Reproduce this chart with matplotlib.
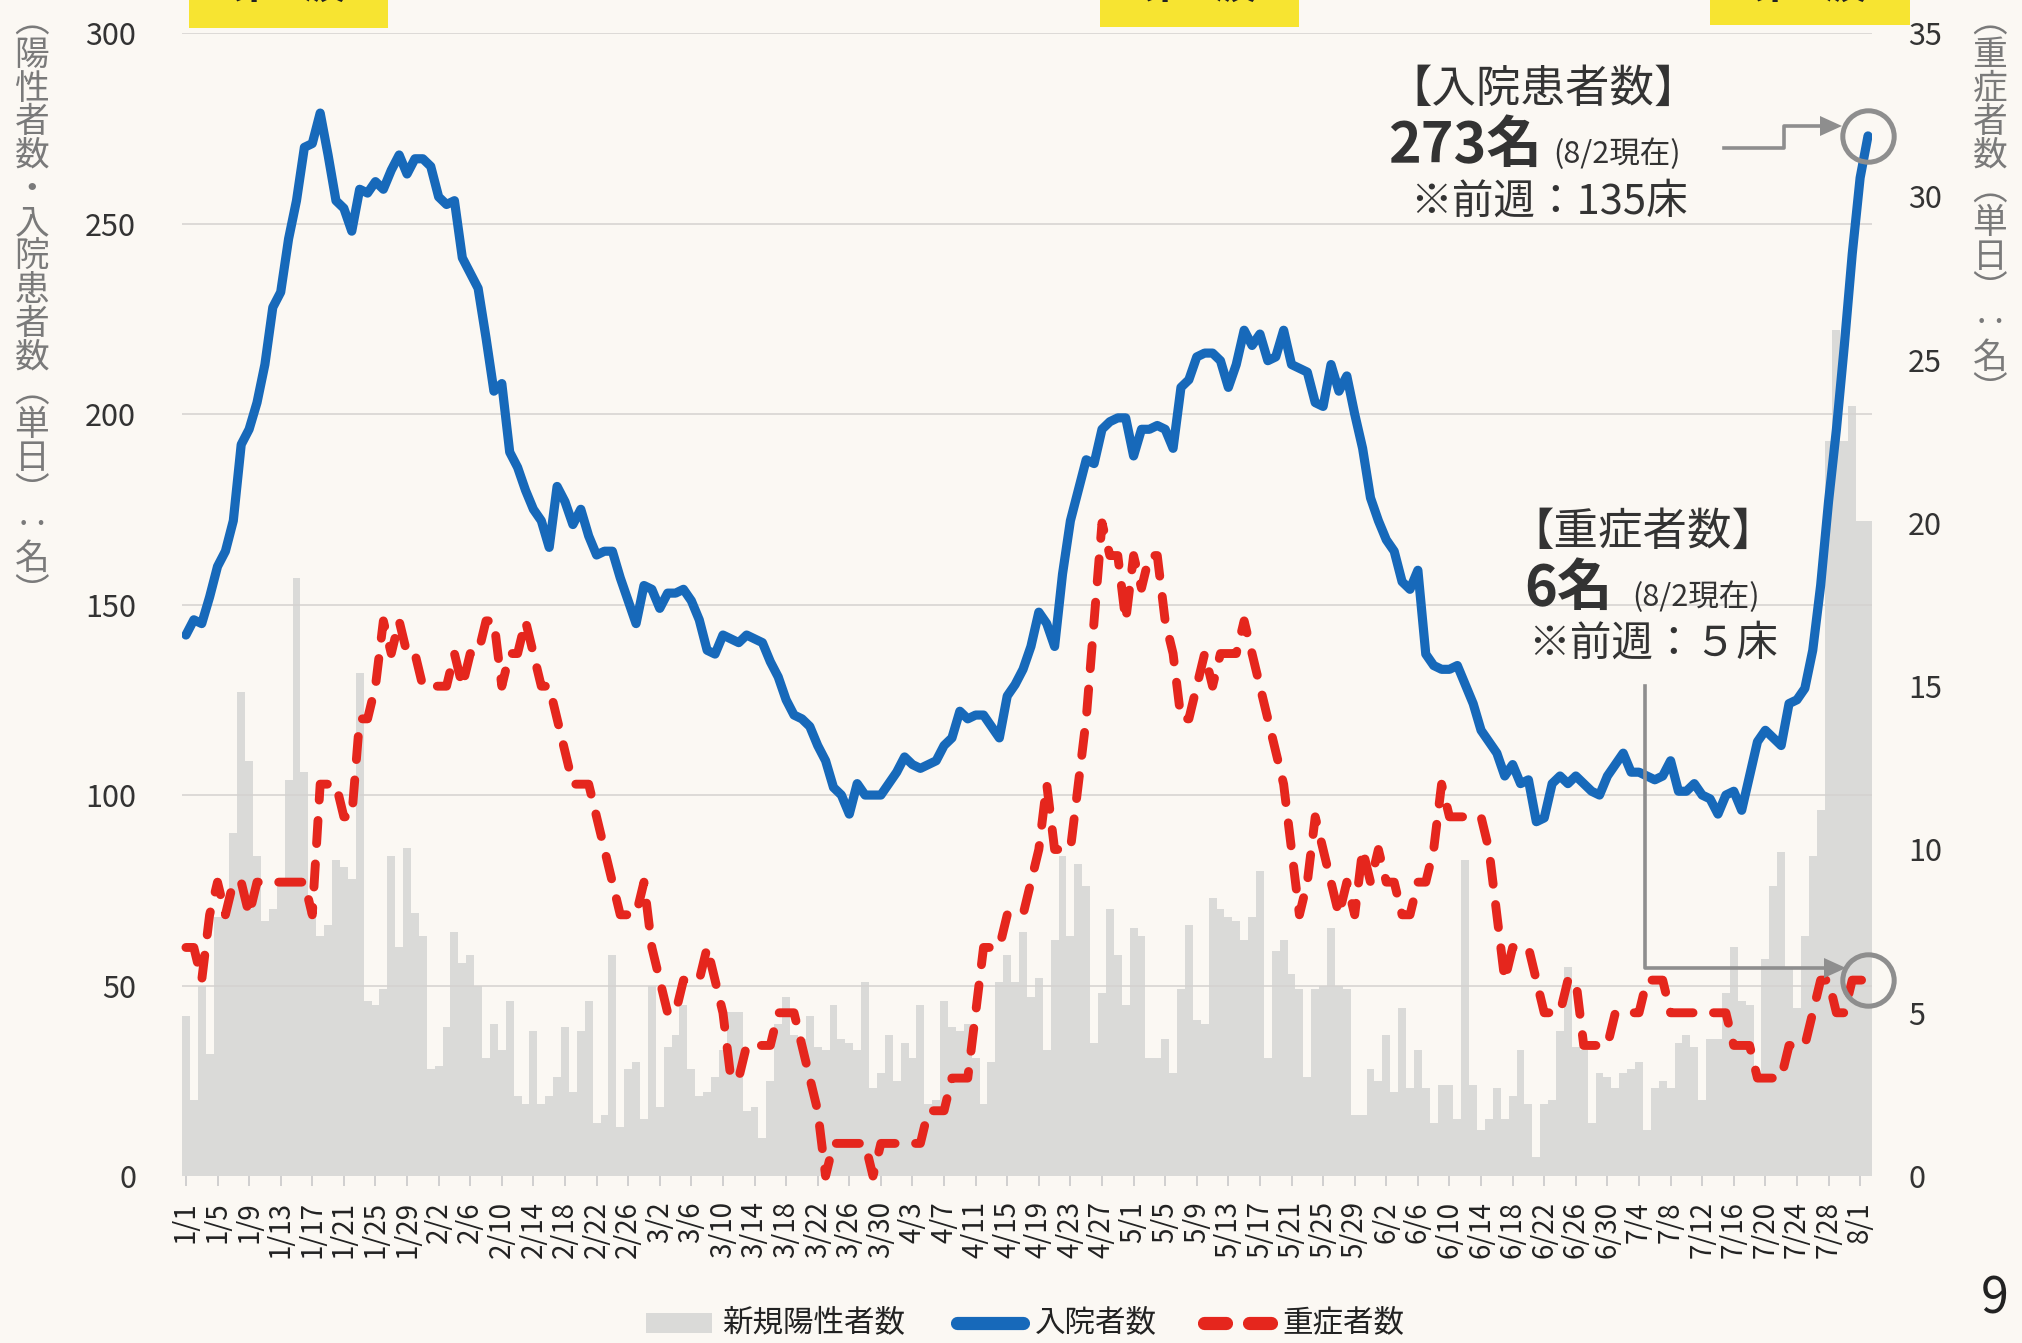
import datetime as dt
import numpy as np
import matplotlib
matplotlib.use("Agg")
import matplotlib.pyplot as plt
from matplotlib.lines import Line2D
from matplotlib.patches import Rectangle

plt.rcParams['font.family'] = ['Noto Sans CJK JP', 'DejaVu Sans']

# ---- data: 2022/1/1 - 8/2, daily ----
start_date = dt.date(2022, 1, 1)

new_positive = [
    42, 20, 50, 32, 68, 68, 90, 127, 109, 84,
    67, 70, 78, 104, 157, 106, 68, 63, 66, 83,
    81, 78, 132, 46, 45, 49, 84, 60, 86, 69,
    63, 28, 29, 39, 64, 56, 58, 50, 31, 40,
    33, 46, 21, 19, 38, 19, 21, 26, 39, 22,
    38, 46, 14, 16, 58, 13, 28, 30, 15, 50,
    18, 34, 37, 45, 28, 21, 22, 26, 33, 43,
    43, 17, 18, 10, 25, 40, 47, 37, 36, 42,
    34, 33, 45, 36, 35, 33, 51, 23, 27, 37,
    25, 35, 31, 45, 19, 20, 46, 39, 38, 40,
    31, 19, 30, 51, 58, 51, 64, 47, 52, 33,
    62, 84, 63, 82, 76, 35, 48, 70, 58, 45,
    65, 63, 31, 31, 36, 27, 49, 66, 41, 40,
    73, 70, 68, 67, 62, 68, 80, 31, 59, 62,
    53, 49, 26, 49, 50, 65, 50, 49, 16, 16,
    28, 25, 37, 22, 44, 23, 33, 23, 14, 24,
    24, 15, 83, 24, 12, 15, 23, 15, 21, 33,
    19, 5, 19, 20, 38, 55, 34, 33, 14, 27,
    26, 23, 27, 28, 30, 12, 23, 25, 23, 35,
    37, 34, 20, 36, 36, 48, 60, 46, 45, 27,
    57, 76, 85, 55, 44, 63, 84, 96, 193, 222,
    193, 202, 172, 172,
]

hospitalized = [
    142, 146, 145, 152, 160, 164, 172, 192, 196, 203,
    213, 228, 232, 246, 256, 270, 271, 279, 268, 256,
    254, 248, 259, 258, 261, 259, 264, 268, 263, 267,
    267, 265, 257, 255, 256, 241, 237, 233, 220, 206,
    208, 190, 186, 180, 175, 172, 165, 181, 177, 171,
    175, 168, 163, 164, 164, 157, 151, 145, 155, 154,
    149, 153, 153, 154, 151, 146, 138, 137, 142, 141,
    140, 142, 141, 140, 135, 131, 125, 121, 120, 118,
    113, 109, 102, 100, 95, 103, 100, 100, 100, 103,
    106, 110, 108, 107, 108, 109, 113, 115, 122, 120,
    121, 121, 118, 115, 126, 129, 133, 139, 148, 145,
    139, 158, 172, 180, 188, 187, 196, 198, 199, 199,
    189, 196, 196, 197, 196, 191, 207, 209, 215, 216,
    216, 214, 207, 213, 222, 218, 221, 214, 215, 222,
    213, 212, 211, 203, 202, 213, 206, 210, 200, 191,
    178, 172, 167, 164, 156, 154, 159, 137, 134, 133,
    133, 134, 129, 124, 117, 114, 111, 105, 108, 103,
    104, 93, 94, 103, 105, 103, 105, 103, 101, 100,
    105, 108, 111, 106, 106, 105, 104, 105, 109, 101,
    101, 103, 100, 99, 95, 100, 101, 96, 105, 114,
    117, 115, 113, 124, 125, 128, 138, 155, 177, 196,
    218, 242, 262, 273,
]

severe = [
    7, 7, 6, 8, 9, 8, 9, 9, 8, 9,
    9, 9, 9, 9, 9, 9, 8, 12, 12, 12,
    11, 11, 14, 14, 15, 17, 16, 17, 16, 16,
    15, 15, 15, 15, 16, 15, 16, 16, 17, 17,
    15, 16, 16, 17, 16, 15, 15, 14, 13, 12,
    12, 12, 11, 10, 9, 8, 8, 8, 9, 7,
    6, 5, 5, 6, 6, 6, 7, 6, 5, 3,
    3, 4, 4, 4, 4, 5, 5, 5, 4, 3,
    2, 0, 1, 1, 1, 1, 1, 0, 1, 1,
    1, 1, 1, 1, 2, 2, 2, 3, 3, 3,
    5, 7, 7, 7, 8, 8, 8, 9, 10, 12,
    10, 10, 10, 12, 14, 17, 20, 19, 19, 17,
    19, 18, 19, 19, 17, 16, 14, 14, 15, 16,
    15, 16, 16, 16, 17, 16, 15, 14, 13, 12,
    10, 8, 9, 11, 10, 9, 8, 9, 8, 10,
    9, 10, 9, 9, 8, 8, 9, 9, 10, 12,
    11, 11, 11, 11, 11, 10, 8, 6, 7, 7,
    7, 6, 5, 5, 5, 6, 6, 4, 4, 4,
    4, 5, 5, 5, 5, 6, 6, 6, 5, 5,
    5, 5, 5, 5, 5, 5, 4, 4, 4, 3,
    3, 3, 3, 4, 4, 4, 5, 6, 6, 5,
    5, 6, 6, 6,
]

left_ticks = [0, 50, 100, 150, 200, 250, 300]
right_ticks = [0, 5, 10, 15, 20, 25, 30, 35]

legend_labels = ['新規陽性者数', '入院者数', '重症者数']
left_label = ['︵', '陽', '性', '者', '数', '・', '入', '院', '患', '者', '数',
              '︵', '単', '日', '︶', '‥', '名', '︶']
right_label = ['︵', '重', '症', '者', '数', '︵', '単', '日', '︶', '‥', '名', '︶']
wave_labels = ['第6波', '第6波', '第7波']

# ---- style ----
BG = '#fbf8f3'
BAR = '#dadad8'
GRID = '#d4d2cf'
BLUE = '#1769ba'
RED = '#e5261d'
TXT = '#333333'
ARROW = '#8e8e8e'

n = len(hospitalized)
dates = [start_date + dt.timedelta(days=i) for i in range(n)]
x = np.arange(n)

fig = plt.figure(figsize=(20.22, 13.43), dpi=100)
fig.patch.set_facecolor(BG)
ax = fig.add_axes([0.090, 0.1243, 0.8358, 0.8511])
ax.set_facecolor(BG)

ax.bar(x, new_positive, width=1.0, color=BAR, linewidth=0, zorder=1)
for v in left_ticks[1:]:
    ax.axhline(v, color=GRID, lw=1.1, zorder=1.5)
ax.plot(x, hospitalized, color=BLUE, lw=6.6, solid_joinstyle='round',
        solid_capstyle='round', zorder=3)
ax.plot(x[-1], hospitalized[-1], marker='o', ms=37, mfc='none',
        mec=ARROW, mew=3.6, zorder=4, clip_on=False)

ax.set_xlim(-0.5, n - 0.5)
ax.set_ylim(0, 300)
ax.set_yticks(left_ticks)
ax.tick_params(axis='y', length=0, pad=33, labelsize=22, labelcolor=TXT)
tick_idx = list(range(0, n, 4))
ax.set_xticks(tick_idx)
ax.set_xticklabels([f'{dates[i].month}/{dates[i].day}' for i in tick_idx],
                   rotation=90)
ax.tick_params(axis='x', length=7, width=1.2, color='#c9c9c9', pad=11,
               labelsize=20, labelcolor='#222222')

ax2 = ax.twinx()
ax2.set_ylim(0, 35)
ax2.set_yticks(right_ticks)
ax2.tick_params(axis='y', length=0, pad=26, labelsize=22, labelcolor=TXT)
ax2.plot(x, severe, color=RED, lw=6.4, ls=(0, (2.6, 2.3)),
         dash_capstyle='round', solid_joinstyle='round', clip_on=False,
         zorder=3)
ax2.plot(x[-1], severe[-1], marker='o', ms=37, mfc='none',
         mec=ARROW, mew=3.6, zorder=4, clip_on=False)

for a in (ax, ax2):
    for s in a.spines.values():
        s.set_visible(False)

W, H = 2022.0, 1343.0


def fx(px):
    return px / W


def fy(py):
    return 1 - py / H


# vertical axis titles
for i, ch in enumerate(left_label):
    fig.text(fx(32), fy(22 + 33.6 * i), ch, fontsize=25, color='#7a7a7a',
             ha='center', va='center')
for i, ch in enumerate(right_label):
    fig.text(fx(1990), fy(22 + 33.6 * i), ch, fontsize=25, color='#7a7a7a',
             ha='center', va='center')

# yellow wave boxes at the top (cut off in the original)
for (x0, x1, h), lab in zip([(189, 388, 28), (1100, 1299, 27), (1710, 1910, 25)],
                            wave_labels):
    fig.add_artist(Rectangle((fx(x0), fy(h)), fx(x1) - fx(x0), h / H,
                             transform=fig.transFigure, color='#f7e431',
                             lw=0, zorder=0))
    fig.text(fx((x0 + x1) / 2), fy(-14), lab, fontsize=32, color='#222222',
             ha='center', va='center', fontweight='bold')

# annotations: hospitalized
fig.text(fx(1543), fy(89), '【入院患者数】', fontsize=32, color=TXT,
         ha='center', va='center')
fig.text(fx(1388), fy(146), '273名', fontsize=40, fontweight='bold',
         color=TXT, ha='left', va='center')
fig.text(fx(1553), fy(154), '(8/2現在)', fontsize=22, color=TXT,
         ha='left', va='center')
fig.text(fx(1410), fy(202), '※前週：135床', fontsize=30, color=TXT,
         ha='left', va='center')
fig.add_artist(Line2D([fx(1724), fx(1784), fx(1784), fx(1822)],
                      [fy(148), fy(148), fy(126), fy(126)],
                      transform=fig.transFigure, color=ARROW, lw=2.6))
fig.add_artist(plt.Polygon([[fx(1820), fy(116)], [fx(1842), fy(126)],
                            [fx(1820), fy(136)]], closed=True,
                           transform=fig.transFigure, color=ARROW, lw=0))

# annotations: severe
fig.text(fx(1643), fy(532), '【重症者数】', fontsize=32, color=TXT,
         ha='center', va='center')
fig.text(fx(1524), fy(589), '6名', fontsize=40, fontweight='bold',
         color=TXT, ha='left', va='center')
fig.text(fx(1632), fy(597), '(8/2現在)', fontsize=22, color=TXT,
         ha='left', va='center')
fig.text(fx(1528), fy(644), '※前週：５床', fontsize=30, color=TXT,
         ha='left', va='center')
fig.add_artist(Line2D([fx(1645), fx(1645), fx(1826)],
                      [fy(686), fy(968), fy(968)],
                      transform=fig.transFigure, color=ARROW, lw=2.6))
fig.add_artist(plt.Polygon([[fx(1824), fy(958)], [fx(1846), fy(968)],
                            [fx(1824), fy(978)]], closed=True,
                           transform=fig.transFigure, color=ARROW, lw=0))

# legend
ly = 1323
fig.add_artist(Rectangle((fx(646), fy(1333)), fx(712) - fx(646), 20 / H,
                         transform=fig.transFigure, color=BAR, lw=0))
fig.text(fx(722), fy(ly), legend_labels[0], fontsize=22, color='#222222',
         ha='left', va='center')
fig.add_artist(Line2D([fx(957), fx(1023)], [fy(ly), fy(ly)],
                      transform=fig.transFigure, color=BLUE, lw=9.5,
                      solid_capstyle='round'))
fig.text(fx(1035), fy(ly), legend_labels[1], fontsize=22, color='#222222',
         ha='left', va='center')
for a0, a1 in [(1204, 1226), (1249, 1271)]:
    fig.add_artist(Line2D([fx(a0), fx(a1)], [fy(ly), fy(ly)],
                          transform=fig.transFigure, color=RED, lw=9.5,
                          solid_capstyle='round'))
fig.text(fx(1282), fy(ly), legend_labels[2], fontsize=22, color='#222222',
         ha='left', va='center')

# page number
fig.text(fx(1995), fy(1300), '9', fontsize=36, color='#222222',
         ha='center', va='center')

fig.savefig('out.png', dpi=100, facecolor=BG)
